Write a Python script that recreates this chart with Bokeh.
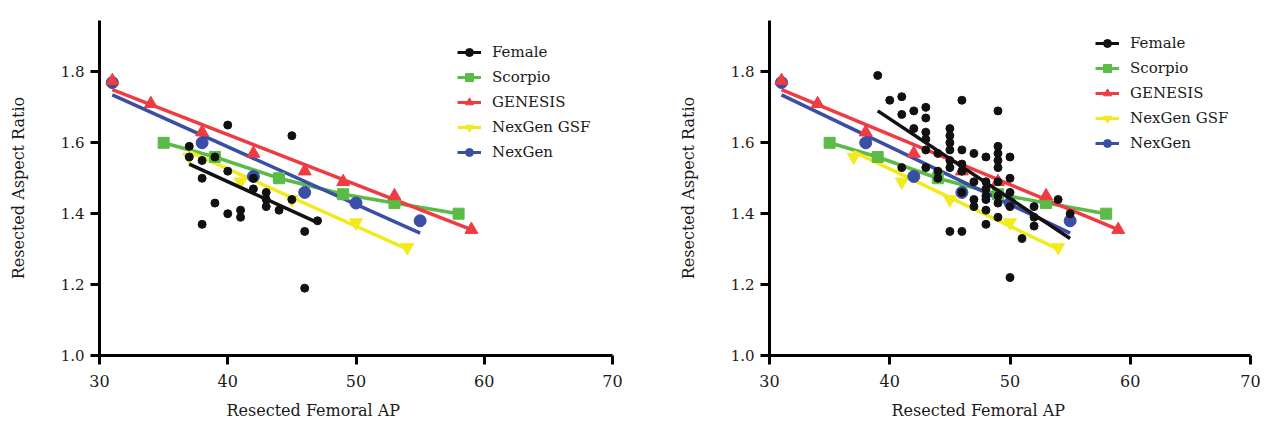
from bokeh.plotting import figure
from bokeh.layouts import row
from bokeh.models import (FixedTicker, NumeralTickFormatter, Legend, LegendItem,
                          ColumnDataSource, Title, Range1d)
from bokeh.embed import file_html
from bokeh.resources import INLINE

# ---------------- data ----------------
x_ticks = [30, 40, 50, 60, 70]
y_ticks = [1.0, 1.2, 1.4, 1.6, 1.8]
series_names = ["Female", "Scorpio", "GENESIS", "NexGen GSF", "NexGen"]
x_title = "Resected Femoral AP"
y_title = "Resected Aspect Ratio"

# left panel: female scatter + fit
female_left_x = [37, 37, 38, 38, 38, 39, 39, 40, 40, 40, 41, 41, 42, 42, 43, 43, 43, 44, 45, 45, 46, 46, 47]
female_left_y = [1.59, 1.56, 1.55, 1.50, 1.37, 1.56, 1.43, 1.65, 1.52, 1.40, 1.41, 1.39, 1.50, 1.47,
                 1.46, 1.44, 1.42, 1.41, 1.62, 1.44, 1.35, 1.19, 1.38]
female_left_fit_x = [37, 47]
female_left_fit_y = [1.54, 1.375]

# right panel: female scatter + fit
female_right_x = [39, 40, 41, 41, 41, 42, 42, 43, 43, 43, 43, 43, 43, 44, 44, 44,
                  45, 45, 45, 45, 45, 45, 45, 46, 46, 46, 46, 46, 46, 47, 47, 47, 47,
                  48, 48, 48, 48, 48, 48, 48, 49, 49, 49, 49, 49, 49, 49, 49, 49,
                  50, 50, 50, 50, 50, 51, 52, 52, 52, 54, 55]
female_right_y = [1.79, 1.72, 1.73, 1.68, 1.53, 1.69, 1.64, 1.70, 1.67, 1.63, 1.61, 1.58, 1.53, 1.57, 1.52, 1.50,
                  1.64, 1.62, 1.60, 1.58, 1.55, 1.53, 1.35, 1.72, 1.58, 1.54, 1.52, 1.46, 1.35, 1.57, 1.49, 1.44, 1.42,
                  1.56, 1.49, 1.47, 1.45, 1.44, 1.41, 1.37, 1.69, 1.59, 1.57, 1.55, 1.53, 1.49, 1.45, 1.43, 1.39,
                  1.56, 1.50, 1.46, 1.42, 1.22, 1.33, 1.42, 1.39, 1.365, 1.44, 1.40]
female_right_fit_x = [39, 55]
female_right_fit_y = [1.69, 1.33]

# implant reference series (same in both panels)
scorpio_x = [35, 39, 44, 49, 53, 58]
scorpio_y = [1.60, 1.56, 1.50, 1.455, 1.43, 1.40]

genesis_x = [31, 34, 38, 42, 46, 49, 53, 59]
genesis_y = [1.775, 1.71, 1.63, 1.57, 1.52, 1.49, 1.45, 1.355]
genesis_fit_x = [31, 59]
genesis_fit_y = [1.75, 1.355]

gsf_x = [37, 41, 45, 50, 54]
gsf_y = [1.56, 1.49, 1.44, 1.375, 1.305]
gsf_fit_x = [37, 54]
gsf_fit_y = [1.575, 1.30]

nexgen_x = [31, 38, 42, 46, 50, 55]
nexgen_y = [1.77, 1.60, 1.505, 1.46, 1.43, 1.38]
nexgen_fit_x = [31, 55]
nexgen_fit_y = [1.735, 1.345]

# ---------------- style ----------------
FONT = "DejaVu Serif"
C_BLACK = "#111111"
C_GREEN = "#5bbb47"
C_RED = "#ef3b42"
C_YELLOW = "#f3ea1d"
C_BLUE = "#3a4ea6"
LW = 3.5
NAN = float("nan")


def make_panel(fx, fy, ffx, ffy, width, b_left, b_right, b_top, b_bottom,
               legend_loc, xtitle_offset):
    p = figure(width=width, height=428, output_backend="svg", toolbar_location=None,
               x_range=Range1d(30, 70), y_range=Range1d(1.0, 1.945),
               min_border_left=b_left, min_border_right=b_right,
               min_border_top=b_top, min_border_bottom=b_bottom)
    p.outline_line_color = None
    p.grid.visible = False
    p.background_fill_color = "white"
    p.border_fill_color = "white"

    for ax in (p.xaxis[0], p.yaxis[0]):
        ax.axis_line_width = 3
        ax.axis_line_color = "black"
        ax.major_tick_line_width = 3
        ax.major_tick_line_color = "black"
        ax.major_tick_out = 9
        ax.major_tick_in = 0
        ax.minor_tick_line_color = None
        ax.major_label_text_font = FONT
        ax.major_label_text_color = "#1a1a1a"
        ax.axis_label_text_font = FONT
        ax.axis_label_text_font_style = "normal"
        ax.axis_label_text_color = "#1a1a1a"
        ax.axis_label_text_font_size = "16px"

    p.xaxis.ticker = FixedTicker(ticks=x_ticks)
    p.xaxis.major_label_text_font_size = "16px"
    p.xaxis.major_label_standoff = 10
    p.yaxis.ticker = FixedTicker(ticks=y_ticks)
    p.yaxis.formatter = NumeralTickFormatter(format="0.0")
    p.yaxis.major_label_text_font_size = "15px"
    p.yaxis.major_label_standoff = 6
    p.yaxis.axis_label = y_title
    p.yaxis.axis_label_standoff = 30

    t = Title(text=x_title, align="left", offset=xtitle_offset, text_font=FONT,
              text_font_size="16px", text_font_style="normal", text_color="#1a1a1a",
              standoff=18)
    p.add_layout(t, "below")

    # lines
    p.line(scorpio_x, scorpio_y, line_color=C_GREEN, line_width=LW)
    p.line(nexgen_fit_x, nexgen_fit_y, line_color=C_BLUE, line_width=LW)
    p.line(genesis_fit_x, genesis_fit_y, line_color=C_RED, line_width=LW)
    p.line(gsf_fit_x, gsf_fit_y, line_color=C_YELLOW, line_width=LW)
    # markers
    p.scatter(scorpio_x, scorpio_y, marker="square", size=11, fill_color=C_GREEN, line_color=C_GREEN)
    p.scatter(gsf_x, gsf_y, marker="inverted_triangle", size=13, fill_color=C_YELLOW, line_color=C_YELLOW)
    p.scatter(nexgen_x, nexgen_y, marker="circle", size=12, fill_color=C_BLUE, line_color=C_BLUE)
    p.scatter(genesis_x, genesis_y, marker="triangle", size=13, fill_color=C_RED, line_color=C_RED)
    # female
    p.line(ffx, ffy, line_color=C_BLACK, line_width=LW)
    p.scatter(fx, fy, marker="circle", size=8, fill_color=C_BLACK, line_color=C_BLACK)

    # legend proxies (NaN data: drawn only in the legend)
    specs = [(series_names[0], C_BLACK, "circle"),
             (series_names[1], C_GREEN, "square"),
             (series_names[2], C_RED, "triangle"),
             (series_names[3], C_YELLOW, "inverted_triangle"),
             (series_names[4], C_BLUE, "circle")]
    items = []
    for name, col, mk in specs:
        src = ColumnDataSource(data=dict(x=[NAN], y=[NAN]))
        lr = p.line("x", "y", source=src, line_color=col, line_width=3)
        sr = p.scatter("x", "y", source=src, marker=mk, size=7, fill_color=col, line_color=col)
        items.append(LegendItem(label=name, renderers=[lr, sr]))
    leg = Legend(items=items, location=legend_loc, padding=0, margin=0, spacing=5,
                 glyph_width=24, glyph_height=20, label_height=20, label_standoff=11,
                 label_text_font=FONT, label_text_font_size="15px",
                 label_text_color="#1a1a1a", label_text_baseline="middle",
                 background_fill_alpha=0, border_line_color=None)
    p.add_layout(leg)
    return p


left = make_panel(female_left_x, female_left_y, female_left_fit_x, female_left_fit_y,
                  width=636, b_left=99, b_right=24, b_top=20, b_bottom=72,
                  legend_loc=(358, 193), xtitle_offset=127)
right = make_panel(female_right_x, female_right_y, female_right_fit_x, female_right_fit_y,
                   width=636, b_left=133, b_right=22, b_top=10, b_bottom=73,
                   legend_loc=(326, 202), xtitle_offset=122)

layout = row(left, right)
open("out.html", "w").write(file_html(layout, INLINE))
